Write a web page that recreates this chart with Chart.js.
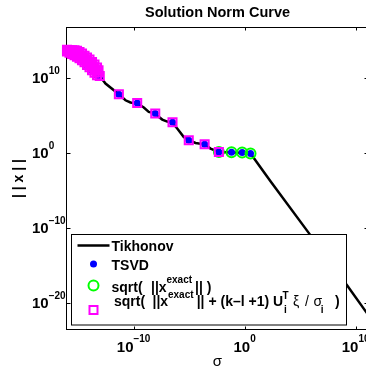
<!DOCTYPE html>
<html>
<head>
<meta charset="utf-8">
<script src="https://cdn.jsdelivr.net/npm/chart.js@4.4.1/dist/chart.umd.min.js"></script>
<style>
  html, body { margin: 0; padding: 0; background: #fff; overflow: hidden; }
  #wrap { position: relative; width: 366px; height: 369px; overflow: hidden; }
  canvas { display: block; }
</style>
</head>
<body>
<div id="wrap"><canvas id="chart" width="380" height="369"></canvas></div>
<script>
// Tikhonov solution norm vs regularisation parameter
var tikSigma = [1e-16, 1.66e-15, 1.3e-14, 8.9e-14, 2.95e-13, 4.7e-12, 1.86e-11, 5.2e-11, 2.1e-10,
  8.3e-10, 2.3e-9, 6.6e-9, 3.8e-8, 1.07e-7, 3.0e-7, 8.5e-7, 3.3e-6, 9.3e-6, 3.8e-5, 2.5e-4,
  8.5e-4, 4.8e-3, 6.6e-2, 0.60, 3.4, 214, 8.7e5, 1.74e9, 9.3e10, 1e12];
var tikNorm = [4.4e13, 9.3e12, 5.9e11, 1.6e10, 1.6e9, 5.9e7, 9.3e6, 4.7e6, 3.4e6,
  1.0e6, 2.6e5, 1.9e5, 2.5e4, 1.35e4, 1.0e4, 1.6e3, 120, 44, 19, 12.6,
  3.4, 1.2, 1.02, 0.93, 0.74, 1.5e-4, 9.3e-12, 2.0e-18, 5.1e-22, 4e-24];

// noise-dominated components near machine precision (dense cluster)
var clusterSigma = [1e-16, 1.68e-16, 2.82e-16, 4.74e-16, 7.94e-16, 1.34e-15, 2.24e-15, 3.78e-15,
  6.34e-15, 1.06e-14, 1.79e-14, 3.0e-14, 5.05e-14, 6.9e-14,
  1.3e-16, 2.18e-16, 3.65e-16, 6.14e-16, 1.03e-15, 1.73e-15, 2.91e-15, 4.89e-15,
  8.2e-15, 1.38e-14, 2.32e-14, 3.89e-14, 6.2e-14,
  1e-16, 1.68e-16, 2.82e-16, 4.74e-16, 7.94e-16, 1.34e-15, 2.24e-15, 3.78e-15,
  6.34e-15, 1.06e-14, 1.79e-14, 3.0e-14, 5.05e-14];
var clusterNorm = [4.8e13, 4.6e13, 4.4e13, 4.2e13, 3.7e13, 2.5e13, 1.6e13, 8.1e12,
  4.6e12, 2.5e12, 1.2e12, 5.4e11, 2.2e11, 9.4e10,
  3.4e13, 2.75e13, 2.2e13, 1.74e13, 1.2e13, 7.4e12, 4.1e12, 2.1e12,
  1.1e12, 5.1e11, 2.3e11, 1.0e11, 5.1e10,
  2.9e13, 2.0e13, 1.36e13, 9.4e12, 5.9e12, 3.7e12, 2.0e12, 1.1e12,
  4.8e11, 2.4e11, 9.4e10, 4.4e10, 2.0e10];

// TSVD solution norms at the resolved singular values
var tsvdSigma = [8.9e-14, 4.7e-12, 2.1e-10, 8.9e-9, 3.2e-7, 9.3e-6, 2.5e-4, 4.8e-3, 6.6e-2, 0.60, 3.4];
var tsvdNorm = [1.6e10, 5.9e7, 4.1e6, 1.6e5, 1.1e4, 44, 12.6, 1.2, 1.1, 1.0, 0.74];

// sqrt(||x exact||)
var exactSigma = [4.8e-3, 6.6e-2, 0.60, 3.4];
var exactNorm = [1.2, 1.1, 1.0, 0.74];

// sqrt(||x exact|| + (k-l+1) U_i^T xi / sigma_i)
var noiseSigma = [8.9e-14, 4.7e-12, 2.1e-10, 8.9e-9, 3.2e-7, 9.3e-6, 2.5e-4, 4.8e-3];
var noiseNorm = [1.6e10, 5.9e7, 4.1e6, 1.6e5, 1.1e4, 44, 12.6, 1.2];

var xTicks = [1e-10, 1, 1e10];
var xTickExp = ['\u221210', '0', '10'];
var yTicks = [1e10, 1, 1e-10, 1e-20];
var yTickExp = ['10', '0', '\u221210', '\u221220'];

var FONT = '"Liberation Sans", Arial, Helvetica, sans-serif';

function pairs(xs, ys) {
  return xs.map(function(x, i) { return {x: x, y: ys[i]}; });
}

function drawPow(ctx, exp, x, y, raise, center) {
  ctx.font = 'bold 15px ' + FONT;
  var w1 = ctx.measureText('10').width;
  ctx.font = 'bold 10px ' + FONT;
  var w2 = ctx.measureText(exp).width;
  var x0 = center ? x - (w1 + w2) / 2 : x;
  ctx.textAlign = 'left';
  ctx.textBaseline = 'alphabetic';
  ctx.font = 'bold 15px ' + FONT;
  ctx.fillText('10', x0, y);
  ctx.font = 'bold 10px ' + FONT;
  ctx.fillText(exp, x0 + w1, y - raise);
}

function txt(ctx, s, x, y, font) {
  ctx.font = font;
  ctx.fillText(s, x, y);
}

var matlabAxes = {
  id: 'matlabAxes',
  beforeDatasetsDraw: function(chart) {
    var ctx = chart.ctx, a = chart.chartArea;
    var xs = chart.scales.x, ys = chart.scales.y;
    ctx.save();
    ctx.strokeStyle = '#000';
    ctx.lineWidth = 1;
    ctx.strokeRect(a.left - 0.5, a.top + 0.5, a.right - a.left, a.bottom - a.top - 1);
    ctx.beginPath();
    xTicks.forEach(function(v) {
      var px = Math.round(xs.getPixelForValue(v)) + 0.5;
      ctx.moveTo(px, a.bottom); ctx.lineTo(px, a.bottom - 3.5);
      ctx.moveTo(px, a.top); ctx.lineTo(px, a.top + 3.5);
    });
    yTicks.forEach(function(v) {
      var py = Math.round(ys.getPixelForValue(v)) + 0.5;
      ctx.moveTo(a.left, py); ctx.lineTo(a.left + 3.5, py);
      ctx.moveTo(a.right, py); ctx.lineTo(a.right - 3.5, py);
    });
    ctx.stroke();
    ctx.restore();
  },
  afterDatasetsDraw: function(chart) {
    var ctx = chart.ctx, a = chart.chartArea;
    var xs = chart.scales.x, ys = chart.scales.y;
    ctx.save();
    ctx.fillStyle = '#000';

    // tick labels
    xTicks.forEach(function(v, i) {
      drawPow(ctx, xTickExp[i], xs.getPixelForValue(v), a.bottom + 22, 10, true);
    });
    yTicks.forEach(function(v, i) {
      drawPow(ctx, yTickExp[i], 32, ys.getPixelForValue(v) + 5.3, 9.3, false);
    });

    // title and axis labels
    var cx = (a.left + a.right) / 2;
    ctx.textAlign = 'center';
    txt(ctx, 'Solution Norm Curve', cx, 16.7, 'bold 14.5px ' + FONT);
    txt(ctx, '\u03c3', cx, 365.5, '15px ' + FONT);
    ctx.save();
    ctx.translate(19, (a.top + a.bottom) / 2);
    ctx.rotate(-Math.PI / 2);
    ctx.textBaseline = 'middle';
    txt(ctx, '| | x | |', 0, 0, 'bold 14px ' + FONT);
    ctx.restore();

    // legend box
    ctx.fillStyle = '#fff';
    ctx.fillRect(71, 234.5, 275.5, 90.5);
    ctx.strokeStyle = '#000';
    ctx.lineWidth = 1;
    ctx.strokeRect(71.5, 234.5, 275, 90.5);

    var ds = chart.data.datasets;
    ctx.strokeStyle = ds[0].borderColor;
    ctx.lineWidth = ds[0].borderWidth;
    ctx.beginPath(); ctx.moveTo(77.5, 245.5); ctx.lineTo(109.5, 245.5); ctx.stroke();

    ctx.fillStyle = ds[1].pointBackgroundColor;
    ctx.beginPath(); ctx.arc(93.5, 264, ds[1].pointRadius, 0, 2 * Math.PI); ctx.fill();

    ctx.strokeStyle = ds[3].pointBorderColor;
    ctx.lineWidth = ds[3].pointBorderWidth;
    ctx.beginPath(); ctx.arc(93.5, 285.5, ds[3].pointRadius, 0, 2 * Math.PI); ctx.stroke();

    ctx.strokeStyle = ds[4].pointBorderColor;
    ctx.lineWidth = ds[4].pointBorderWidth;
    ctx.strokeRect(89.5, 306, 8, 8);

    ctx.fillStyle = '#000';
    ctx.textAlign = 'left';
    ctx.textBaseline = 'alphabetic';
    var B = 'bold 14px ' + FONT, S = 'bold 10px ' + FONT, G = '14px ' + FONT;
    txt(ctx, 'Tikhonov', 111.5, 250.5, B);
    txt(ctx, 'TSVD', 111.5, 269.5, B);

    txt(ctx, 'sqrt(', 111.5, 291.5, B);
    txt(ctx, '||x', 151, 291.5, B);
    txt(ctx, 'exact', 166.5, 283, S);
    txt(ctx, '|| )', 195, 291.5, B);

    txt(ctx, 'sqrt(', 114, 305.5, B);
    txt(ctx, '||x', 152.5, 305.5, B);
    txt(ctx, 'exact', 168, 297.5, S);
    txt(ctx, '|| + (k\u2013l +1) U', 196.7, 305.5, B);
    txt(ctx, 'T', 282.5, 298.5, S);
    txt(ctx, 'i', 284, 312.5, S);
    txt(ctx, '\u03be', 293, 305.5, G);
    txt(ctx, '/', 305, 305.5, G);
    txt(ctx, '\u03c3', 313.5, 305.5, G);
    txt(ctx, 'i', 320.7, 312.5, S);
    txt(ctx, ')', 335, 305.5, B);
    ctx.restore();
  }
};

var sq = {
  showLine: false,
  pointStyle: 'rect',
  pointRadius: 5.7,
  pointBorderWidth: 2,
  pointBackgroundColor: 'rgba(0,0,0,0)',
  pointBorderColor: '#ff00ff',
  clip: false,
  order: 1
};

new Chart(document.getElementById('chart').getContext('2d'), {
  type: 'line',
  data: {
    datasets: [{
      label: 'Tikhonov',
      data: pairs(tikSigma, tikNorm),
      borderColor: '#000000',
      borderWidth: 2.5,
      pointRadius: 0,
      tension: 0,
      fill: false,
      order: 5
    }, {
      label: 'TSVD',
      data: pairs(tsvdSigma, tsvdNorm).concat(pairs(clusterSigma, clusterNorm)),
      showLine: false,
      pointStyle: 'circle',
      pointRadius: 3.5,
      pointBorderWidth: 0,
      pointBackgroundColor: '#0000ff',
      pointBorderColor: '#0000ff',
      clip: false,
      order: 4
    }, Object.assign({}, sq, {
      label: 'cluster',
      data: pairs(clusterSigma, clusterNorm),
      order: 3
    }), {
      label: 'sqrt(||x exact||)',
      data: pairs(exactSigma, exactNorm),
      showLine: false,
      pointStyle: 'circle',
      pointRadius: 5,
      pointBorderWidth: 2,
      pointBackgroundColor: 'rgba(0,0,0,0)',
      pointBorderColor: '#00ff00',
      clip: false,
      order: 2
    }, Object.assign({}, sq, {
      label: 'sqrt(||x exact|| + (k-l+1) U_i^T xi / sigma_i)',
      data: pairs(noiseSigma, noiseNorm)
    })]
  },
  options: {
    responsive: false,
    animation: false,
    events: [],
    layout: { padding: { left: 67, top: 27, right: 12, bottom: 39 } },
    scales: {
      x: { type: 'logarithmic', min: 1e-16, max: 1.3e11, display: false },
      y: { type: 'logarithmic', min: 2.3e-24, max: 5.4e16, display: false }
    },
    plugins: {
      legend: { display: false },
      title: { display: false },
      tooltip: { enabled: false }
    }
  },
  plugins: [matlabAxes]
});
</script>
</body>
</html>
